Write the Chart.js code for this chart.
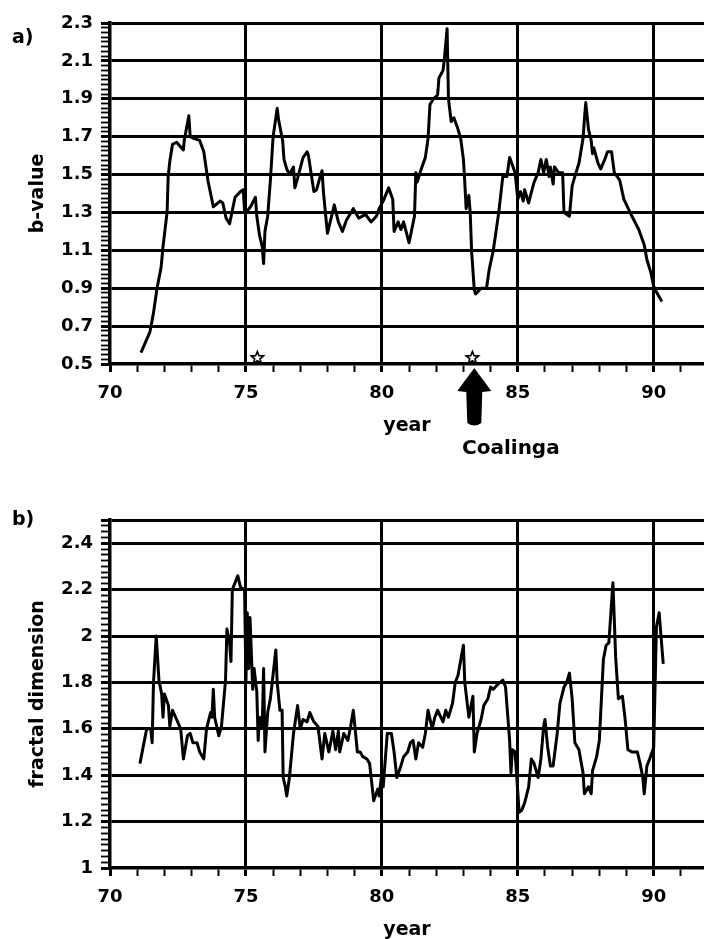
<!DOCTYPE html>
<html>
<head>
<meta charset="utf-8">
<script src="https://cdn.jsdelivr.net/npm/chart.js@4.4.1/dist/chart.umd.min.js"></script>
<style>
  html,body{margin:0;padding:0;background:#fff;}
  body{width:704px;height:939px;overflow:hidden;position:relative;font-family:"DejaVu Sans",sans-serif;color:#000;}
  .lbl{position:absolute;font-weight:bold;font-size:19px;line-height:1;}
  #c1{position:absolute;left:0;top:0;}
  #c2{position:absolute;left:0;top:460px;}
</style>
</head>
<body>
<canvas id="c1" width="704" height="438"></canvas>
<canvas id="c2" width="704" height="482"></canvas>
<div class="lbl" style="left:12px;top:27px;">a)</div>
<div class="lbl" style="left:12px;top:509px;">b)</div>
<div class="lbl" style="left:462px;top:437px;font-size:20px;">Coalinga</div>
<script>
// ---- data: panel a) b-value ----
const bYears = [71.14,71.47,71.6,71.73,71.88,71.95,72.1,72.14,72.2,72.3,72.45,72.7,72.73,72.9,72.95,73.1,73.3,73.45,73.6,73.8,74.05,74.15,74.27,74.4,74.6,74.8,74.9,74.95,75.0,75.17,75.35,75.4,75.5,75.6,75.65,75.7,75.8,75.9,76.0,76.1,76.15,76.2,76.35,76.4,76.5,76.6,76.75,76.8,76.9,77.1,77.25,77.3,77.5,77.6,77.75,77.8,77.85,77.95,78.0,78.1,78.25,78.4,78.55,78.7,78.95,79.15,79.4,79.6,79.8,79.9,80.05,80.25,80.4,80.45,80.6,80.7,80.8,81.0,81.2,81.25,81.3,81.45,81.6,81.7,81.77,81.9,82.05,82.1,82.25,82.3,82.4,82.45,82.55,82.65,82.8,82.9,83.0,83.05,83.1,83.2,83.25,83.3,83.4,83.45,83.65,83.85,83.95,84.1,84.3,84.45,84.6,84.7,84.8,84.9,85.0,85.1,85.2,85.25,85.4,85.45,85.6,85.75,85.85,85.95,86.05,86.15,86.2,86.3,86.35,86.5,86.65,86.7,86.9,87.0,87.1,87.25,87.4,87.45,87.5,87.6,87.7,87.75,87.8,87.95,88.05,88.2,88.3,88.45,88.55,88.75,88.9,89.1,89.2,89.45,89.65,89.75,89.9,90.0,90.1,90.3];
const bValues = [0.56,0.67,0.77,0.9,1.01,1.12,1.3,1.49,1.57,1.66,1.67,1.63,1.68,1.81,1.70,1.69,1.68,1.62,1.47,1.33,1.36,1.35,1.27,1.24,1.38,1.41,1.42,1.31,1.30,1.33,1.38,1.28,1.18,1.12,1.03,1.20,1.28,1.47,1.70,1.80,1.85,1.79,1.68,1.58,1.53,1.50,1.54,1.43,1.48,1.59,1.62,1.60,1.41,1.42,1.50,1.52,1.41,1.26,1.19,1.25,1.34,1.25,1.20,1.26,1.32,1.27,1.29,1.25,1.28,1.32,1.36,1.43,1.37,1.20,1.25,1.21,1.25,1.14,1.28,1.51,1.46,1.53,1.59,1.69,1.87,1.90,1.92,2.01,2.05,2.11,2.27,1.90,1.78,1.80,1.74,1.69,1.58,1.46,1.32,1.39,1.30,1.10,0.89,0.87,0.90,0.90,1.00,1.10,1.30,1.49,1.49,1.59,1.55,1.51,1.37,1.41,1.36,1.42,1.35,1.38,1.46,1.51,1.58,1.51,1.58,1.49,1.54,1.45,1.54,1.51,1.51,1.30,1.28,1.44,1.49,1.56,1.69,1.79,1.88,1.74,1.68,1.61,1.64,1.56,1.53,1.58,1.62,1.62,1.51,1.47,1.37,1.31,1.28,1.21,1.13,1.05,0.98,0.91,0.88,0.83];

// ---- data: panel b) fractal dimension ----
const fdYears = [71.1,71.35,71.5,71.55,71.6,71.7,71.8,71.9,71.95,72.0,72.15,72.2,72.3,72.45,72.6,72.7,72.85,72.95,73.05,73.2,73.3,73.45,73.55,73.7,73.75,73.8,73.85,74.0,74.1,74.25,74.3,74.4,74.45,74.5,74.7,74.8,74.95,75.0,75.05,75.1,75.15,75.25,75.3,75.4,75.45,75.5,75.6,75.65,75.7,75.8,75.9,76.1,76.15,76.25,76.33,76.37,76.45,76.5,76.6,76.75,76.9,77.0,77.1,77.25,77.35,77.5,77.65,77.8,77.9,78.05,78.2,78.3,78.4,78.45,78.6,78.75,78.85,78.95,79.1,79.2,79.3,79.45,79.55,79.7,79.85,79.9,80.0,80.05,80.2,80.35,80.45,80.55,80.7,80.8,80.95,81.05,81.15,81.25,81.35,81.5,81.6,81.7,81.85,81.95,82.05,82.25,82.35,82.45,82.6,82.7,82.8,83.0,83.05,83.2,83.35,83.4,83.5,83.65,83.75,83.9,84.0,84.1,84.25,84.45,84.55,84.7,84.75,84.8,84.9,85.05,85.15,85.25,85.4,85.5,85.6,85.75,85.85,85.95,86.0,86.1,86.2,86.3,86.45,86.55,86.7,86.8,86.9,87.0,87.1,87.25,87.4,87.45,87.6,87.7,87.75,87.9,88.0,88.15,88.25,88.35,88.5,88.6,88.7,88.85,88.95,89.05,89.2,89.4,89.5,89.6,89.65,89.75,89.85,90.0,90.1,90.2,90.35];
const fdValues = [1.45,1.60,1.60,1.54,1.80,2.00,1.81,1.75,1.65,1.75,1.70,1.61,1.68,1.64,1.60,1.47,1.57,1.58,1.54,1.54,1.50,1.47,1.60,1.67,1.65,1.77,1.65,1.57,1.61,1.81,2.03,1.97,1.89,2.20,2.26,2.21,2.20,1.80,2.10,1.86,2.08,1.77,1.86,1.76,1.55,1.65,1.61,1.86,1.50,1.67,1.73,1.94,1.80,1.68,1.68,1.39,1.35,1.31,1.39,1.58,1.70,1.60,1.64,1.63,1.67,1.63,1.61,1.47,1.58,1.50,1.59,1.51,1.59,1.50,1.58,1.55,1.61,1.68,1.50,1.50,1.48,1.47,1.45,1.29,1.34,1.31,1.41,1.35,1.58,1.58,1.50,1.39,1.44,1.48,1.50,1.54,1.55,1.47,1.54,1.52,1.58,1.68,1.60,1.65,1.68,1.63,1.68,1.65,1.71,1.80,1.83,1.96,1.80,1.65,1.74,1.50,1.58,1.64,1.70,1.73,1.78,1.77,1.79,1.81,1.78,1.55,1.41,1.51,1.50,1.24,1.25,1.28,1.35,1.47,1.45,1.39,1.47,1.61,1.64,1.52,1.44,1.44,1.58,1.71,1.78,1.80,1.84,1.73,1.54,1.51,1.41,1.32,1.35,1.32,1.42,1.48,1.55,1.90,1.96,1.97,2.23,1.91,1.73,1.74,1.64,1.51,1.50,1.50,1.45,1.39,1.32,1.44,1.47,1.52,2.04,2.10,1.88];

// ---- axes ----
const xMin = 70, xMax = 91.85;
const xMajorStep = 5;
const bMin = 0.5, bMax = 2.3, bMajorStep = 0.2, bMinorStep = 0.025;
const fdMin = 1.0, fdMax = 2.5, fdMajorStep = 0.2, fdMinorStep = 0.025;
const eventYears = [75.42, 83.33];   // stars (earthquakes)
const eventLevel = 0.532;
const arrowYear = 83.4;               // Coalinga arrow

const FONT = '"DejaVu Sans", sans-serif';
const near = (a, b) => Math.abs(a - b) < 1e-6;
const isMult = (v, step, off) => { const q = (v - off) / step; return near(q, Math.round(q)); };

function range(a, b, s) {
  const out = []; const n = Math.round((b - a) / s);
  for (let i = 0; i <= n; i++) out.push(Math.round((a + i * s) * 10000) / 10000);
  return out;
}
const xTicks = range(70, 91, 1);

function xScale() {
  return {
    type: 'linear', min: xMin, max: xMax,
    afterBuildTicks: s => { s.ticks = xTicks.map(v => ({ value: v })); },
    afterFit: s => { s.height = 74; },
    border: { display: true, color: '#000', width: 3.5 },
    grid: {
      drawOnChartArea: true, tickLength: 8,
      color: c => (c.tick && isMult(c.tick.value, xMajorStep, 0) && c.tick.value > xMin) ? '#000' : 'rgba(0,0,0,0)',
      lineWidth: 3,
      tickColor: '#000', tickWidth: c => (c.tick && isMult(c.tick.value, xMajorStep, 0)) ? 3 : 2
    },
    ticks: {
      autoSkip: false, maxRotation: 0, minRotation: 0, padding: 11, color: '#000',
      font: { family: FONT, size: 18, weight: 'bold' },
      callback: v => isMult(v, xMajorStep, 0) ? String(v) : ''
    },
    title: { display: true, text: 'year', color: '#000', font: { family: FONT, size: 19, weight: 'bold' }, padding: { top: 0, bottom: 1 } }
  };
}

function yScale(min, max, minor, major, off, fmt, title, extraMajor) {
  const t = range(min, max, minor);
  const isMaj = v => isMult(v, major, off) || extraMajor.some(e => near(e, v));
  return {
    type: 'linear', min: min, max: max,
    afterBuildTicks: s => { s.ticks = t.map(v => ({ value: v })); },
    afterFit: s => { s.width = 110; },
    border: { display: true, color: '#000', width: 3.5 },
    grid: {
      drawOnChartArea: true, tickLength: 9,
      color: c => (c.tick && isMaj(c.tick.value) && c.tick.value > min) ? '#000' : 'rgba(0,0,0,0)',
      lineWidth: 3,
      tickColor: '#000', tickWidth: c => (c.tick && isMaj(c.tick.value)) ? 3 : 1.8
    },
    ticks: {
      autoSkip: false, padding: 8, color: '#000',
      font: { family: FONT, size: 18, weight: 'bold' },
      callback: v => isMult(v, major, off) ? fmt(v) : ''
    },
    title: { display: true, text: title, color: '#000', font: { family: FONT, size: 19, weight: 'bold' }, padding: { top: 27, bottom: 0 } }
  };
}

function star(ctx, cx, cy, R, r) {
  ctx.beginPath();
  for (let i = 0; i < 10; i++) {
    const ang = -Math.PI / 2 + i * Math.PI / 5;
    const rad = i % 2 === 0 ? R : r;
    const px = cx + rad * Math.cos(ang), py = cy + rad * Math.sin(ang);
    if (i === 0) ctx.moveTo(px, py); else ctx.lineTo(px, py);
  }
  ctx.closePath();
}

const eventsPlugin = {
  id: 'events',
  afterDraw(chart) {
    const { ctx, scales: { x, y } } = chart;
    ctx.save();
    // arrow
    const ax = x.getPixelForValue(arrowYear);
    const tipY = y.getPixelForValue(bMin) + 4;
    ctx.fillStyle = '#000';
    ctx.beginPath();
    ctx.moveTo(ax, tipY);
    ctx.lineTo(ax + 17, tipY + 23);
    ctx.lineTo(ax + 8, tipY + 24);
    ctx.lineTo(ax + 7, tipY + 55);
    ctx.quadraticCurveTo(ax, tipY + 60, ax - 7, tipY + 55);
    ctx.lineTo(ax - 8, tipY + 24);
    ctx.lineTo(ax - 17, tipY + 23);
    ctx.closePath();
    ctx.fill();
    // stars
    ctx.lineWidth = 1.6;
    ctx.strokeStyle = '#000';
    ctx.fillStyle = '#fff';
    eventYears.forEach(yr => {
      star(ctx, x.getPixelForValue(yr), y.getPixelForValue(eventLevel), 6.5, 2.8);
      ctx.fill(); ctx.stroke();
    });
    ctx.restore();
  }
};

const toXY = (xs, ys) => xs.map((v, i) => ({ x: v, y: ys[i] }));
const lineDs = data => ({
  data, showLine: true, borderColor: '#000', borderWidth: 3, pointRadius: 0,
  tension: 0, fill: false, borderJoinStyle: 'round'
});

new Chart(document.getElementById('c1'), {
  type: 'scatter',
  data: { datasets: [lineDs(toXY(bYears, bValues))] },
  options: {
    responsive: false, animation: false, events: [],
    layout: { padding: { top: 23, right: 0, bottom: 0, left: 0 } },
    plugins: { legend: { display: false }, tooltip: { enabled: false } },
    scales: {
      x: xScale(),
      y: yScale(bMin, bMax, bMinorStep, bMajorStep, 0.1, v => v.toFixed(1), 'b-value', [])
    }
  },
  plugins: [eventsPlugin]
});

new Chart(document.getElementById('c2'), {
  type: 'scatter',
  data: { datasets: [lineDs(toXY(fdYears, fdValues))] },
  options: {
    responsive: false, animation: false, events: [],
    layout: { padding: { top: 60, right: 0, bottom: 0, left: 0 } },
    plugins: { legend: { display: false }, tooltip: { enabled: false } },
    scales: {
      x: xScale(),
      y: yScale(fdMin, fdMax, fdMinorStep, fdMajorStep, 0, v => String(+v.toFixed(1)), 'fractal dimension', [fdMax])
    }
  }
});
</script>
</body>
</html>
